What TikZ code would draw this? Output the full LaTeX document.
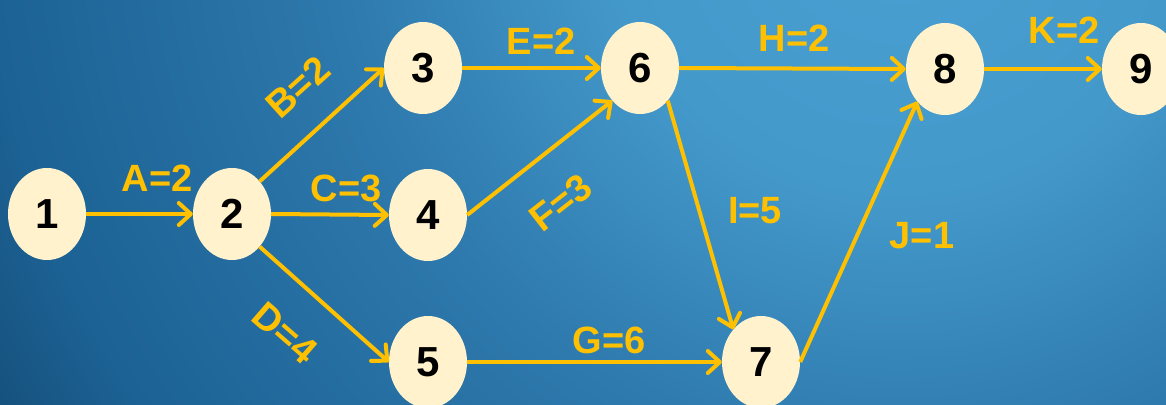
\documentclass[tikz,border=0pt]{standalone}
\usepackage{fontspec}
\setmainfont{Liberation Sans}
\usetikzlibrary{shapes.geometric,arrows.meta}
\definecolor{arrowc}{RGB}{255,192,0}
\definecolor{nodefill}{RGB}{255,242,204}
\definecolor{bgA}{RGB}{74,160,210}
\definecolor{bgB}{RGB}{68,153,203}
\definecolor{bgC}{RGB}{45,120,172}
\definecolor{bgD}{RGB}{28,98,148}
\definecolor{bgE}{RGB}{21,78,122}
\definecolor{bgF}{RGB}{18,70,112}
\pgfdeclareradialshading{bgshade}{\pgfpoint{0bp}{0bp}}{color(0bp)=(bgA); color(6bp)=(bgB); color(12bp)=(bgC); color(19bp)=(bgD); color(22bp)=(bgE); color(25bp)=(bgF); color(50bp)=(bgF)}
\tikzset{
  evt/.style={ellipse, fill=nodefill, minimum width=78pt, minimum height=92pt, inner sep=0pt,
    font=\fontsize{42}{42}\selectfont\bfseries, text=black},
  act/.style={draw=arrowc, line width=4pt, -{Straight Barb[length=12pt,width=22pt,round]}},
  lbl/.style={font=\fontsize{38}{38}\selectfont\bfseries, text=arrowc, inner sep=0pt}
}
\begin{document}
\begin{tikzpicture}[x=1pt,y=-1pt]
\useasboundingbox (0,0) rectangle (1166,404);
\begin{scope}
\clip (0,0) rectangle (1166,404);
\shade[shading=bgshade] (900,-100) circle (1200);
\end{scope}
\node[evt] (n1) at (47,214) {1};
\node[evt] (n2) at (232,214) {2};
\node[evt] (n3) at (423,68) {3};
\node[evt] (n4) at (428,215) {4};
\node[evt] (n5) at (428,362) {5};
\node[evt] (n6) at (640,68) {6};
\node[evt] (n7) at (761,362) {7};
\node[evt] (n8) at (945,69) {8};
\node[evt] (n9) at (1141,69) {9};
\draw[act] (n1.east) -- (n2.west);
\draw[act] (n2.north east) -- (n3.west);
\draw[act] (n2.east) -- (n4.west);
\draw[act] (n2.south east) -- (n5.west);
\draw[act] (n3.east) -- (n6.west);
\draw[act] (n4.east) -- (n6.south west);
\draw[act] (n6.east) -- (n8.west);
\draw[act] (n6.south east) -- (n7.north west);
\draw[act] (n5.east) -- (n7.west);
\draw[act] (n7.east) -- (n8.south west);
\draw[act] (n8.east) -- (n9.west);
\node[lbl] (lA) at (157,178) {A=2};
\node[lbl, rotate=42] (lB) at (298,87) {B=2};
\node[lbl] (lC) at (346,188) {C=3};
\node[lbl, rotate=-41] (lD) at (285,333) {D=4};
\node[lbl] (lE) at (541,41) {E=2};
\node[lbl, rotate=38] (lF) at (561,203) {F=3};
\node[lbl] (lG) at (609,340) {G=6};
\node[lbl] (lH) at (794,38) {H=2};
\node[lbl] (lI) at (755,211) {I=5};
\node[lbl] (lJ) at (922,236) {J=1};
\node[lbl] (lK) at (1064,30) {K=2};
\end{tikzpicture}
\end{document}
